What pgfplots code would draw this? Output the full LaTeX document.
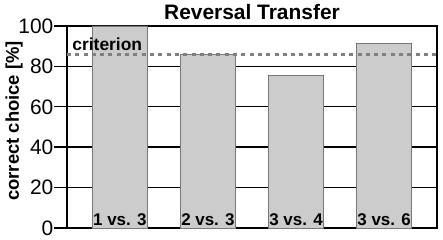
\documentclass[border=0pt]{standalone}
\usepackage{fontspec}
\setmainfont{Liberation Sans}
\usepackage{pgfplots}
\pgfplotsset{compat=1.18}
\definecolor{barfill}{RGB}{204,204,204}
\definecolor{baredge}{RGB}{120,120,120}
\definecolor{critgray}{RGB}{128,128,128}
\begin{document}
\begin{tikzpicture}
\path[use as bounding box] (-67bp,-12bp) rectangle (376bp,228bp);
\begin{axis}[
  scale only axis,
  width=370bp, height=202bp,
  anchor=south west, at={(0,0)},
  xmin=-0.6, xmax=3.6,
  ymin=0, ymax=100,
  ytick={0,20,40,60,80,100},
  xtick=\empty,
  ymajorgrids,
  grid style={black, line width=1.4bp},
  axis line style={black, line width=1.4bp},
  every tick/.style={black, line width=1.4bp},
  major tick length=13bp,
  tick align=outside,
  ytick pos=left,
  /pgf/number format/assume math mode=true,
  yticklabel style={font=\fontsize{21}{21}\selectfont, inner sep=0.5bp},
  title={\textbf{Reversal Transfer}},
  every axis title/.style={font=\fontsize{21}{21}\selectfont, at={(rel axis cs:0.5,1)}, anchor=base, yshift=6bp, inner sep=0pt},
  ylabel={\textbf{correct choice [\%]}},
  every axis y label/.style={font=\fontsize{18.5}{18.5}\selectfont, at={([xshift=-48bp]rel axis cs:0,0.53)}, anchor=base, rotate=90, inner sep=0pt},
  clip=false,
]
\addplot[ybar, bar width=55bp, bar shift=0pt, fill=barfill, draw=baredge, line width=0.9bp]
  coordinates {(0,100) (1,85.8) (2,75.4) (3,91.3)};
\addplot[draw=none, mark=none, point meta=explicit symbolic,
  nodes near coords, nodes near coords align={center},
  every node near coord/.style={anchor=base, yshift=2.5bp, font=\fontsize{17}{17}\selectfont\bfseries, text=black}]
  coordinates {(0,0) [1 vs. 3] (1,0) [2 vs. 3] (2,0) [3 vs. 4] (3,0) [3 vs. 6]};
\addplot[critgray, line width=3.5bp, dash pattern=on 4bp off 4.3bp]
  coordinates {(-0.6,86) (3.6,86)};
\node[anchor=base west, inner sep=0pt, font=\fontsize{17.5}{17.5}\selectfont\bfseries] at (rel axis cs:0.014,0.88) {criterion};
\end{axis}
\end{tikzpicture}
\end{document}
